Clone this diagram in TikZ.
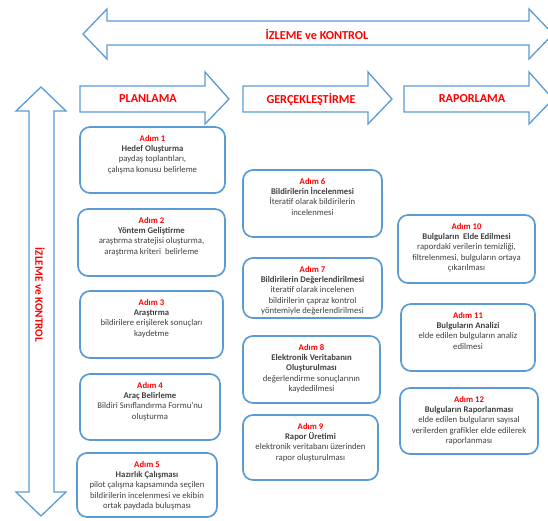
\documentclass[tikz,border=0pt]{standalone}
\usepackage{fontspec}
\setmainfont{Carlito}
\usepackage{xcolor}
\usepackage{tikz}
\usetikzlibrary{calc}

\definecolor{cerceve}{RGB}{91,155,213}
\definecolor{baslik}{RGB}{255,0,0}
\definecolor{yazi}{RGB}{64,64,64}

\tikzset{
    ok/.style={draw=cerceve, line width=1.3pt, fill=white, line join=miter},
    kutu/.style={draw=cerceve, line width=1.7pt, rounded corners=10pt, fill=white},
    okyazi/.style={text=baslik, font=\fontsize{12.2}{14}\selectfont\bfseries},
    metin/.style={text=yazi, align=center, inner sep=0pt,
        font=\fontsize{8.7}{10.3}\selectfont}
}

% one step box: name, left, top, right, bottom, step number, title, text
\newcommand{\adimkutu}[8]{%
    \draw[kutu] (#2,#3) rectangle (#4,#5);
    \node[metin, anchor=north] (#1) at ({(#2+#4)/2},#3+8)
        {{\color{baslik}\bfseries Adım #6}\\\bfseries #7\\\mdseries #8};
}

\begin{document}
\begin{tikzpicture}[x=1pt, y=-1pt]
        \useasboundingbox (0,0) rectangle (548,520);
        \clip (0,0) rectangle (548,520);

        % monitoring arrow on top
        \draw[ok] (83,34) -- (107,9) -- (107,21) -- (529,21) -- (529,9)
            -- (553,34) -- (529,59) -- (529,45) -- (107,45) -- (107,59) -- cycle;
        \node[okyazi] (izlemeust) at (317,34) {İZLEME ve KONTROL};

        % monitoring arrow on the left
        \draw[ok] (41,87) -- (66,111) -- (54,111) -- (54,492) -- (66,492)
            -- (41,516) -- (16,492) -- (29,492) -- (29,111) -- (16,111) -- cycle;
        \node[okyazi, font=\fontsize{11.2}{13}\selectfont\bfseries, rotate=-90]
            (izlemesol) at (40,295) {İZLEME ve KONTROL};

        % phase arrows
        \foreach \x/\ad/\yaz in {80/planlama/PLANLAMA,
                                 243/gerceklestirme/GERÇEKLEŞTİRME,
                                 404/raporlama/RAPORLAMA} {
            \draw[ok] (\x,86) -- (\x+125,86) -- (\x+125,72) -- (\x+149,99)
                -- (\x+125,124) -- (\x+125,112) -- (\x,112) -- cycle;
            \node[okyazi] (\ad) at (\x+68,99) {\yaz};
        }

        % planning steps
        \adimkutu{adim1}{80}{127}{225}{193}{1}{Hedef Oluşturma}
            {paydaş toplantıları,\\çalışma konusu belirleme}
        \adimkutu{adim2}{78}{209}{225}{276}{2}{Yöntem Geliştirme}
            {araştırma stratejisi oluşturma,\\araştırma kriteri\ \ belirleme}
        \adimkutu{adim3}{80}{291}{223}{358}{3}{Araştırma}
            {bildirilere erişilerek sonuçları\\kaydetme}
        \adimkutu{adim4}{80}{374}{220}{440}{4}{Araç Belirleme}
            {Bildiri Sınıflandırma Formu'nu\\oluşturma}
        \adimkutu{adim5}{77}{453}{217}{517}{5}{Hazırlık Çalışması}
            {pilot çalışma kapsamında seçilen\\bildirilerin incelenmesi ve ekibin\\ortak paydada buluşması}

        % execution steps
        \adimkutu{adim6}{243}{170}{382}{237}{6}{Bildirilerin İncelenmesi}
            {İteratif olarak bildirilerin\\incelenmesi}
        \adimkutu{adim7}{243}{258}{382}{318}{7}{Bildirilerin Değerlendirilmesi}
            {iteratif olarak incelenen\\bildirilerin çapraz kontrol\\yöntemiyle değerlendirilmesi}
        \adimkutu{adim8}{243}{336}{380}{403}{8}{Elektronik Veritabanın\\\bfseries Oluşturulması}
            {değerlendirme sonuçlarının\\kaydedilmesi}
        \adimkutu{adim9}{243}{415}{378}{480}{9}{Rapor Üretimi}
            {elektronik veritabanı üzerinden\\rapor oluşturulması}

        % reporting steps
        \adimkutu{adim10}{398}{215}{535}{283}{10}{Bulguların\ \ Elde Edilmesi}
            {rapordaki verilerin temizliği,\\filtrelenmesi, bulguların ortaya\\çıkarılması}
        \adimkutu{adim11}{401}{304}{535}{371}{11}{Bulguların Analizi}
            {elde edilen bulguların analiz\\edilmesi}
        \adimkutu{adim12}{400}{388}{538}{454}{12}{Bulguların Raporlanması}
            {elde edilen bulguların sayısal\\verilerden grafikler elde edilerek\\raporlanması}
    \end{tikzpicture}
\end{document}
